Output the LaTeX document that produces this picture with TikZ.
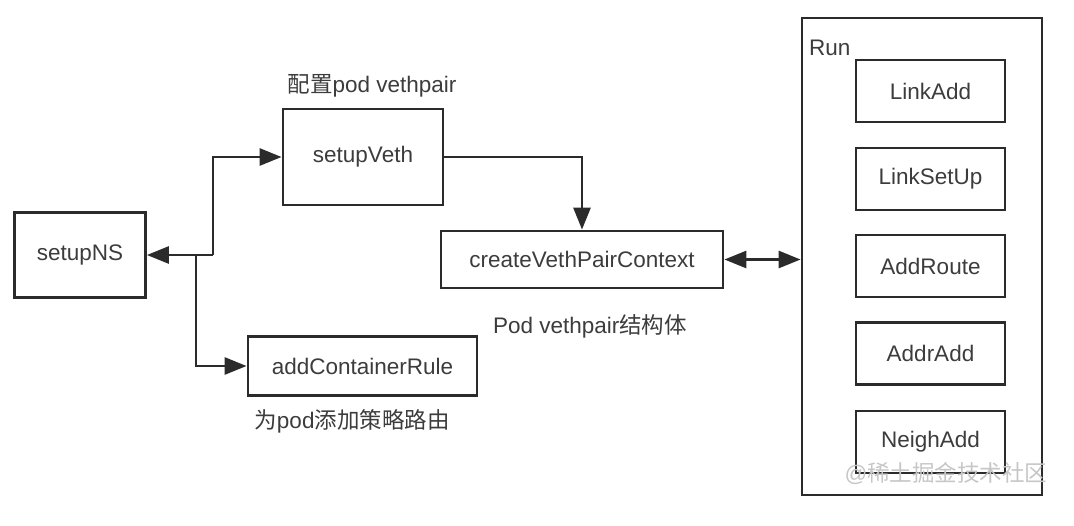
\documentclass[tikz,border=0pt]{standalone}
\usepackage{fontspec}
\setmainfont{Liberation Sans}
\newfontfamily\cjk{Noto Sans CJK SC}
\usetikzlibrary{arrows.meta}
\definecolor{ln}{HTML}{2B2B2B}
\definecolor{tx}{HTML}{3C3C3C}
\tikzset{
  box/.style={draw=ln,line width=2.8pt,rectangle,inner sep=0pt,text=tx,font=\fontsize{22.5}{26}\selectfont},
  lbl/.style={text=tx,inner sep=0pt,font=\fontsize{22.5}{26}\selectfont},
  arr/.style={draw=ln,line width=2.8pt,-{Triangle[length=22pt,width=17pt]}},
  darr/.style={draw=ln,line width=2.8pt,{Triangle[length=22pt,width=17pt]}-{Triangle[length=22pt,width=17pt]}}
}
\begin{document}
\begin{tikzpicture}[x=1pt,y=-1pt]
\useasboundingbox (0,0) rectangle (1074,525);
\node[box,minimum width=131pt,minimum height=85pt] (ns) at (80,255) {setupNS};
\node[box,minimum width=160pt,minimum height=96pt] (veth) at (363,157) {setupVeth};
\node[box,minimum width=229pt,minimum height=59pt] (acr) at (362.5,366) {addContainerRule};
\node[box,minimum width=282pt,minimum height=57pt] (cvp) at (582,259.5) {createVethPairContext};
\node[box,minimum width=240pt,minimum height=477pt] (run) at (922,256.5) {};
\node[lbl,anchor=west] (runl) at (809,48) {Run};
\node[box,minimum width=149pt,minimum height=62pt] (b1) at (930.5,91) {LinkAdd};
\node[box,minimum width=149pt,minimum height=62pt] (b2) at (930.5,179) {LinkSetUp};
\node[box,minimum width=149pt,minimum height=62pt] (b3) at (930.5,266) {AddRoute};
\node[box,minimum width=149pt,minimum height=62pt] (b4) at (930.5,353.5) {AddrAdd};
\node[box,minimum width=149pt,minimum height=62pt] (b5) at (930.5,442) {NeighAdd};
\node[lbl] (l1) at (372,86) {{\cjk 配置}pod vethpair};
\node[lbl] (l2) at (590,326) {Pod vethpair{\cjk 结构体}};
\node[lbl] (l3) at (352,421) {{\cjk 为}pod{\cjk 添加策略路由}};
\node[text=gray!45,inner sep=0pt,font=\fontsize{22.5}{26}\selectfont] (wm) at (946,473) {@{\cjk 稀土掘金技术社区}};
\coordinate (j1) at (213,255);
\coordinate (j2) at (196,255);
\draw[arr] (j1) -- (ns.east);
\draw[arr] (j1) |- (veth.west);
\draw[arr] (j2) |- (acr.west);
\draw[arr] (veth.east) -| (cvp.north);
\draw[darr] (cvp.east) -- (run.west |- cvp.east);
\end{tikzpicture}
\end{document}
